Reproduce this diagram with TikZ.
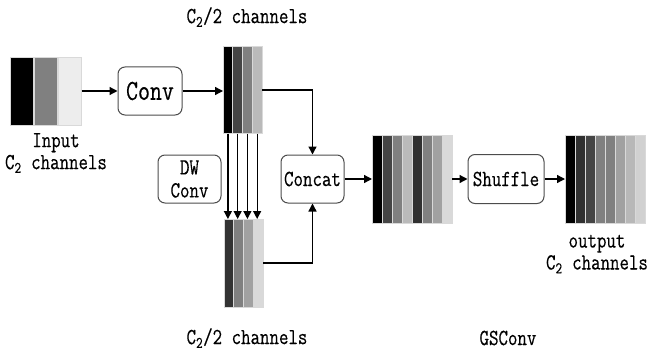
\documentclass[tikz,border=0pt]{standalone}
\usepackage{fontspec}
\newfontfamily\mono[FakeStretch=0.8,FakeBold=0.4]{Latin Modern Mono}
\usetikzlibrary{arrows.meta}
\begin{document}
\begin{tikzpicture}[x=1pt,y=-1pt,
  bar/.style={draw=black!15, line width=0.9pt, inner sep=0pt, outer sep=0pt},
  box/.style={draw=black!70, line width=1pt, rounded corners=7pt, inner sep=0pt,
    align=center, font=\mono\fontsize{23}{23}\selectfont},
  arr/.style={-{Triangle[length=8pt,width=8pt]}, line width=1.3pt},
  lbl/.style={inner sep=0pt, align=center, font=\mono\fontsize{23}{22}\selectfont}]
\useasboundingbox (0,0) rectangle (648,353);

% input tensor: three wide channel bars
\foreach \c [count=\i] in {100,50,7}
  \node[bar, fill=black!\c, minimum width=23, minimum height=68]
    (in\i) at ({21.5+24.25*(\i-1)}, 91) {};

% first half after Conv
\foreach \c [count=\i] in {100,73,50,27}
  \node[bar, fill=black!\c, minimum width=9.75, minimum height=87]
    (a\i) at ({227.9+9.75*(\i-1)}, 90) {};

% second half after depth-wise Conv
\foreach \c [count=\i] in {80,50,37,15}
  \node[bar, fill=black!\c, minimum width=9.75, minimum height=88]
    (b\i) at ({228.9+9.75*(\i-1)}, 263) {};

% concatenated tensor
\foreach \c [count=\i] in {100,73,50,27,81,50,37,15}
  \node[bar, fill=black!\c, minimum width=10, minimum height=88]
    (c\i) at ({377+10*(\i-1)}, 179) {};

% shuffled tensor
\foreach \c [count=\i] in {100,81,73,50,50,37,28,18}
  \node[bar, fill=black!\c, minimum width=10, minimum height=88]
    (d\i) at ({570+10*(\i-1)}, 179) {};

% operation boxes
\node[box, minimum width=64, minimum height=48, font=\mono\fontsize{29}{29}\selectfont]
  (conv) at (150,91) {Conv};
\node[box, minimum width=63, minimum height=48] (dw) at (189.5,179) {DW\\Conv};
\node[box, minimum width=63, minimum height=48] (concat) at (312.5,179) {Concat};
\node[box, minimum width=76, minimum height=49] (shuffle) at (506,179) {Shuffle};

% labels
\node[lbl] (ltop) at (247,17) {C\textsubscript{2}/2 channels};
\node[lbl] (lin) at (56,153) {Input\\C\textsubscript{2} channels};
\node[lbl] (lbot) at (247,338) {C\textsubscript{2}/2 channels};
\node[lbl] (lout) at (597,254) {output\\C\textsubscript{2} channels};
\node[lbl] (lgs) at (508,338) {GSConv};

% connectors
\draw[arr] (in3.east |- conv.west) -- (conv.west);
\draw[arr] (conv.east) -- (conv.east -| a1.west);
\draw[arr] (a4.east) -| (concat.north);
\draw[arr] (b4.east) -| (concat.south);
\foreach \i in {1,...,4}
  \draw[arr] (a\i.south) -- (a\i.south |- b\i.north);
\draw[arr] (concat.east) -- (c1.west);
\draw[arr] (c8.east) -- (shuffle.west);
\draw[arr] (shuffle.east) -- (d1.west);
\end{tikzpicture}
\end{document}
